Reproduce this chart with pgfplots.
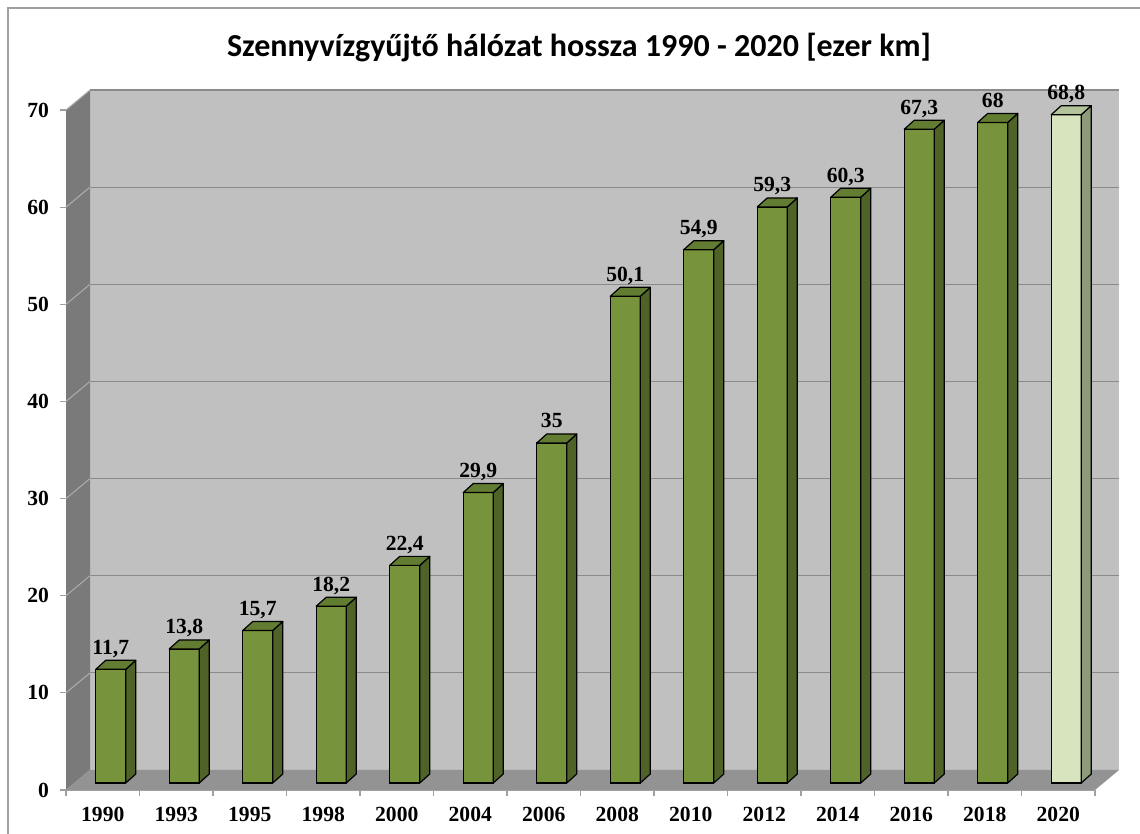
\documentclass[border=0pt]{standalone}
\usepackage{fontspec}
\setmainfont{Liberation Serif}
\newfontfamily\titlefont{Carlito}
\usepackage{pgfplots}
\usepackage{pgfplotstable}
\pgfplotsset{compat=1.18}

\definecolor{frontA}{HTML}{77933C}
\definecolor{sideA}{HTML}{4F6228}
\definecolor{topA}{HTML}{627D32}
\definecolor{frontB}{HTML}{D7E4BD}
\definecolor{sideB}{HTML}{8E9B7B}
\definecolor{topB}{HTML}{B3C39A}
\definecolor{backwall}{HTML}{C0C0C0}
\definecolor{floorgray}{HTML}{939393}
\definecolor{leftwall}{HTML}{7A7A7A}
\definecolor{gridgray}{HTML}{8A8A8A}
\definecolor{axisgray}{HTML}{A0A0A0}

\pgfplotstableread{
x v
0 11.7
1 13.8
2 15.7
3 18.2
4 22.4
5 29.9
6 35
7 50.1
8 54.9
9 59.3
10 60.3
11 67.3
12 68
}\dataA
\pgfplotstableread{
x v
13 68.8
}\dataB

% side and top faces of a bar, drawn at the top centre of its front face
\newcommand\declarebox[3]{%
\pgfdeclareplotmark{#1}{%
  \pgfmathsetlengthmacro\barH{\rawv*4.857143pt}%
  \pgfsetlinewidth{0.6pt}\pgfsetstrokecolor{black}\pgfsetroundjoin
  \pgfsetfillcolor{#3}%
  \pgfpathmoveto{\pgfqpoint{7.5pt}{0pt}}%
  \pgfpathlineto{\pgfqpoint{12.5pt}{4.5pt}}%
  \pgfpathlineto{\pgfpoint{12.5pt}{4.5pt-\barH}}%
  \pgfpathlineto{\pgfpoint{7.5pt}{-\barH}}%
  \pgfpathclose
  \pgfusepath{fill,stroke}%
  \pgfsetfillcolor{#2}%
  \pgfpathmoveto{\pgfqpoint{-7.5pt}{0pt}}%
  \pgfpathlineto{\pgfqpoint{7.5pt}{0pt}}%
  \pgfpathlineto{\pgfqpoint{12.5pt}{4.5pt}}%
  \pgfpathlineto{\pgfqpoint{-2.5pt}{4.5pt}}%
  \pgfpathclose
  \pgfusepath{fill,stroke}%
}}
\declarebox{boxA}{topA}{sideA}
\declarebox{boxB}{topB}{sideB}

\begin{document}
\begin{tikzpicture}
\useasboundingbox (0,0) rectangle (570pt,417pt);
\draw[axisgray, line width=0.8pt] (4pt,0) -- (4pt,413pt) -- (570pt,413pt);
\node[anchor=base, font=\titlefont\bfseries\fontsize{16}{19}\selectfont] at (289.5pt,388.5pt)
  {Szennyvízgyűjtő hálózat hossza 1990 - 2020 [ezer km]};

\begin{axis}[
  at={(33pt,22pt)}, anchor=south west,
  scale only axis, width=514.5pt, height=340pt,
  xmin=-0.5, xmax=13.5, ymin=0, ymax=70,
  axis x line*=bottom, axis y line*=left,
  x axis line style={draw=axisgray, line width=0.6pt},
  y axis line style={draw=none},
  xtick={-0.5,0.5,...,13.5},
  x tick label as interval,
  xticklabels={1990,1993,1995,1998,2000,2004,2006,2008,2010,2012,2014,2016,2018,2020},
  ytick={0,10,...,70},
  tick style={draw=axisgray, line width=0.6pt},
  tick align=outside, major tick length=3pt,
  ticklabel style={font=\bfseries\fontsize{10.8}{12}\selectfont, text=black},
  xticklabel style={yshift=-2pt},
  yticklabel style={xshift=-2pt},
  /pgf/number format/assume math mode=true,
  clip=false,
]
\fill[backwall] ([xshift=12pt,yshift=10pt]axis cs:-0.5,0) rectangle ([xshift=12pt,yshift=10pt]axis cs:13.5,70);
\fill[leftwall] (axis cs:-0.5,0) -- ([xshift=12pt,yshift=10pt]axis cs:-0.5,0) -- ([xshift=12pt,yshift=10pt]axis cs:-0.5,70) -- (axis cs:-0.5,70) -- cycle;
\fill[floorgray] (axis cs:-0.5,0) -- (axis cs:13.5,0) -- ([xshift=12pt,yshift=10pt]axis cs:13.5,0) -- ([xshift=12pt,yshift=10pt]axis cs:-0.5,0) -- cycle;
\pgfplotsinvokeforeach{10,20,30,40,50,60,70}{
  \draw[gridgray!70!white, line width=0.5pt] (axis cs:-0.5,#1) -- ([xshift=12pt,yshift=10pt]axis cs:-0.5,#1);
  \draw[gridgray, line width=0.6pt] ([xshift=12pt,yshift=10pt]axis cs:-0.5,#1) -- ([xshift=12pt,yshift=10pt]axis cs:13.5,#1);
}
\end{axis}

\begin{axis}[
  at={(37pt,25.5pt)}, anchor=south west,
  scale only axis, width=514.5pt, height=340pt,
  xmin=-0.5, xmax=13.5, ymin=0, ymax=70,
  hide axis, clip=false,
  /pgf/number format/assume math mode=true,
  /pgf/number format/use comma,
  /pgf/number format/fixed,
  /pgf/number format/precision=1,
  nodes near coords style={font=\bfseries\fontsize{10.8}{12}\selectfont, text=black, anchor=base, yshift=7.5pt, inner sep=0pt},
]
\addplot[scatter, only marks, mark=boxA, visualization depends on={\thisrow{v}\as\rawv}] table[x=x,y=v]{\dataA};
\addplot[scatter, only marks, mark=boxB, visualization depends on={\thisrow{v}\as\rawv}] table[x=x,y=v]{\dataB};
\addplot[ybar, bar width=15pt, bar shift=0pt, fill=frontA, draw=black, line width=0.6pt, nodes near coords] table[x=x,y=v]{\dataA};
\addplot[ybar, bar width=15pt, bar shift=0pt, fill=frontB, draw=black, line width=0.6pt, nodes near coords] table[x=x,y=v]{\dataB};
\end{axis}
\end{tikzpicture}
\end{document}
